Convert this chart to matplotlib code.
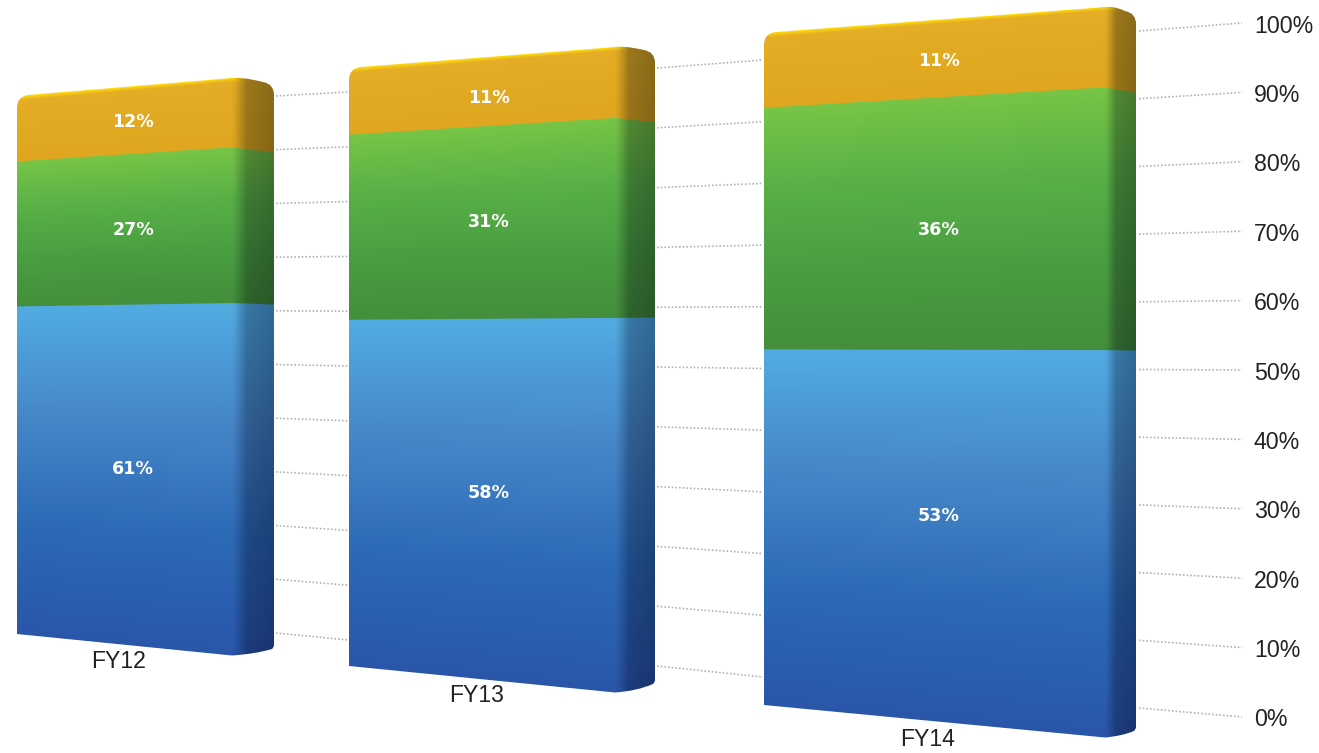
import numpy as np
import matplotlib
matplotlib.use('Agg')
import matplotlib.pyplot as plt
from matplotlib.patches import PathPatch
from matplotlib.path import Path

years = ['FY12', 'FY13', 'FY14']
blue_share = [61, 58, 53]
green_share = [27, 31, 36]
orange_share = [12, 11, 11]
scale_ticks = [0, 10, 20, 30, 40, 50, 60, 70, 80, 90, 100]

# perspective layout of each block: x of left/front-edge/right, y of the 0 and 100 levels there
blocks = [
    dict(x=(17, 232, 274), y0=(634, 655, 648), y100=(97, 78, 85), year_at=(119, 662), label_y=(469, 230, 122), label_x=133),
    dict(x=(349, 615, 655), y0=(666, 692, 683), y100=(69, 47, 53), year_at=(477, 696), label_y=(493, 222, 98), label_x=489),
    dict(x=(764, 1105, 1136), y0=(705, 737, 730), y100=(34, 7, 14), year_at=(928, 739), label_y=(516, 230, 61), label_x=939),
]

# dotted guides in the gaps: x range, y of 0 and 100 at both ends
gaps = [
    dict(x=(276, 348), y0=(633, 640), y100=(96, 92)),
    dict(x=(657, 763), y0=(666, 677), y100=(68, 60)),
    dict(x=(1139, 1242), y0=(708, 717), y100=(31, 23)),
]

blue_stops = np.array([[82, 172, 226], [70, 135, 200], [44, 106, 182], [42, 86, 170]])
green_stops = np.array([[120, 197, 70], [88, 176, 70], [74, 158, 66], [68, 142, 60]])
orange_stops = np.array([[230, 174, 38], [227, 171, 36], [225, 168, 34], [224, 166, 32]])
palette = [blue_stops, green_stops, orange_stops]
highlight = np.array([255, 220, 10])

fig = plt.figure(figsize=(13.19, 7.53), dpi=100)
ax = fig.add_axes([0, 0, 1, 1])
ax.set_xlim(0, 1319)
ax.set_ylim(753, 0)
ax.axis('off')


def level_y(b, value, x):
    bottom = np.interp(x, b['x'], b['y0'])
    top = np.interp(x, b['x'], b['y100'])
    return bottom + (top - bottom) * value / 100.0


def block_outline(b):
    x0, xe, x1 = b['x']
    yb = b['y0']
    yt = b['y100']
    r = 11
    top_l = level_y(b, 100, x0 + r)
    verts = [(x0, yb[0]), (xe, yb[1] + 0.5),
             (xe + (x1 - xe) * 0.55, yb[1] - 1), (x1 - 2, yb[2] + 1),
             (x1, yb[2] - 1), (x1, yb[2] - 3),
             (x1, yt[2] + 10), (x1, yt[2] - 1), (x1 - 11, yt[2] - 3),
             (xe + 8, yt[1] - 2), (xe - 6, yt[1] + 0.5),
             (x0 + r, top_l - 1),
             (x0, yt[0] - 0.5), (x0, yt[0] + r),
             (x0, yb[0])]
    codes = [Path.MOVETO, Path.LINETO,
             Path.CURVE3, Path.CURVE3,
             Path.CURVE3, Path.CURVE3,
             Path.LINETO, Path.CURVE3, Path.CURVE3,
             Path.CURVE3, Path.CURVE3,
             Path.LINETO,
             Path.CURVE3, Path.CURVE3,
             Path.CLOSEPOLY]
    return Path(verts, codes)


def block_image(b, shares):
    x0, xe, x1 = b['x']
    ytop = int(min(b['y100'])) - 5
    ybot = int(max(b['y0'])) + 5
    gx, gy = np.meshgrid(np.arange(x0 - 1, x1 + 1) + 0.5, np.arange(ytop, ybot) + 0.5)
    bottom = np.interp(gx, b['x'], b['y0'])
    top = np.interp(gx, b['x'], b['y100'])
    level = (bottom - gy) / (bottom - top) * 100.0

    edges = np.cumsum([0] + list(shares))
    img = np.zeros(gx.shape + (3,))
    for i in range(3):
        lo, hi = edges[i], edges[i + 1]
        f = np.clip((hi - level) / (hi - lo), 0, 1)
        pos = np.linspace(0, 1, 4)
        seg = np.stack([np.interp(f, pos, palette[i][:, c]) for c in range(3)], axis=-1)
        # 1 px wide blend across the border between two segments
        w = np.clip((level - lo) * (bottom - top) / 100.0 + 0.5, 0, 1) if i > 0 else np.ones_like(f)
        img = img * (1 - w[..., None]) + seg * w[..., None]

    # glossy strip along the top edge of the front face
    d = gy - top
    ramp = np.interp(gx, [x0, x0 + (xe - x0) * 0.8, xe, xe + 14], [0.8, 1.0, 1.0, 0.0])
    h = np.clip(1.3 - (d + 1) / 3.5, 0, 1) * ramp
    img = img * (1 - h[..., None]) + highlight * h[..., None]

    # the side face falls off into shadow
    span = x1 - xe
    shade = np.interp(gx, [xe, xe + 0.1 * span, xe + 0.35 * span, x1], [1.0, 0.93, 0.68, 0.6])
    tint = np.array([1.0, 1.04, 1.15])
    factor = 1 - (1 - shade[..., None]) * (2 - tint)
    img = img * factor
    return np.clip(img, 0, 255).astype(np.uint8), (x0 - 1, x1 + 1, ybot, ytop)


# guides go under the blocks
for g in gaps:
    for t in scale_ticks:
        ya = g['y0'][0] + (g['y100'][0] - g['y0'][0]) * t / 100.0
        yb = g['y0'][1] + (g['y100'][1] - g['y0'][1]) * t / 100.0
        ax.plot(g['x'], [ya, yb], color='#b4b4b4', lw=1.2, ls=(0, (1.0, 1.2)), zorder=1)

for i, b in enumerate(blocks):
    shares = [blue_share[i], green_share[i], orange_share[i]]
    rgb, extent = block_image(b, shares)
    im = ax.imshow(rgb, extent=extent, interpolation='nearest', aspect='auto', zorder=2)
    patch = PathPatch(block_outline(b), transform=ax.transData, fc='none', ec='none')
    ax.add_patch(patch)
    im.set_clip_path(patch)

    for share, ly in zip(shares, b['label_y']):
        ax.text(b['label_x'], ly, '%d%%' % share, color='white', fontsize=12.6,
                fontweight='bold', family='DejaVu Sans', ha='center', va='center', zorder=3)
    ax.text(b['year_at'][0], b['year_at'][1], years[i], color='#222222', fontsize=16.6,
            family='Liberation Sans', ha='center', va='center', zorder=3)

# percent scale on the far right
tick_y = np.linspace(720, 26, len(scale_ticks))
for t, ty in zip(scale_ticks, tick_y):
    ax.text(1254, ty, '%d%%' % t, color='#222222', fontsize=16.7,
            family='Liberation Sans', ha='left', va='center', zorder=3)

ax.set_xlim(0, 1319)
ax.set_ylim(753, 0)
fig.savefig('out.png', dpi=100, facecolor='white')
plt.close(fig)
